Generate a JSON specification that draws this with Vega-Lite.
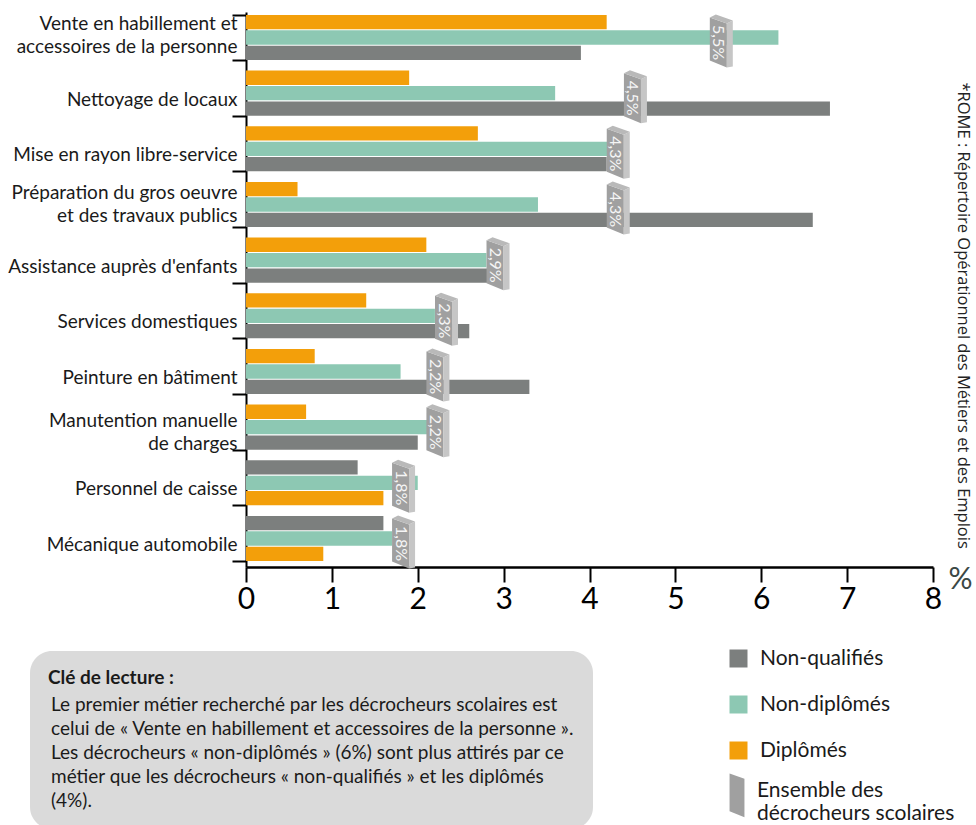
{
  "$schema": "https://vega.github.io/schema/vega-lite/v6.json",
  "width": 687,
  "height": 555,
  "autosize": {"type": "none"},
  "padding": {"left": 246, "top": 12, "right": 43, "bottom": 258},
  "background": "white",
  "config": {"font": "Lato", "view": {"stroke": null}, "axis": {"grid": false}},
  "datasets": {
    "barres": [
      {"metier": "Vente en habillement et accessoires de la personne", "groupe": "Diplômés", "valeur": 4.2},
      {"metier": "Vente en habillement et accessoires de la personne", "groupe": "Non-diplômés", "valeur": 6.2},
      {"metier": "Vente en habillement et accessoires de la personne", "groupe": "Non-qualifiés", "valeur": 3.9},
      {"metier": "Nettoyage de locaux", "groupe": "Diplômés", "valeur": 1.9},
      {"metier": "Nettoyage de locaux", "groupe": "Non-diplômés", "valeur": 3.6},
      {"metier": "Nettoyage de locaux", "groupe": "Non-qualifiés", "valeur": 6.8},
      {"metier": "Mise en rayon libre-service", "groupe": "Diplômés", "valeur": 2.7},
      {"metier": "Mise en rayon libre-service", "groupe": "Non-diplômés", "valeur": 4.3},
      {"metier": "Mise en rayon libre-service", "groupe": "Non-qualifiés", "valeur": 4.2},
      {"metier": "Préparation du gros oeuvre et des travaux publics", "groupe": "Diplômés", "valeur": 0.6},
      {"metier": "Préparation du gros oeuvre et des travaux publics", "groupe": "Non-diplômés", "valeur": 3.4},
      {"metier": "Préparation du gros oeuvre et des travaux publics", "groupe": "Non-qualifiés", "valeur": 6.6},
      {"metier": "Assistance auprès d'enfants", "groupe": "Diplômés", "valeur": 2.1},
      {"metier": "Assistance auprès d'enfants", "groupe": "Non-diplômés", "valeur": 2.8},
      {"metier": "Assistance auprès d'enfants", "groupe": "Non-qualifiés", "valeur": 2.9},
      {"metier": "Services domestiques", "groupe": "Diplômés", "valeur": 1.4},
      {"metier": "Services domestiques", "groupe": "Non-diplômés", "valeur": 2.2},
      {"metier": "Services domestiques", "groupe": "Non-qualifiés", "valeur": 2.6},
      {"metier": "Peinture en bâtiment", "groupe": "Diplômés", "valeur": 0.8},
      {"metier": "Peinture en bâtiment", "groupe": "Non-diplômés", "valeur": 1.8},
      {"metier": "Peinture en bâtiment", "groupe": "Non-qualifiés", "valeur": 3.3},
      {"metier": "Manutention manuelle de charges", "groupe": "Diplômés", "valeur": 0.7},
      {"metier": "Manutention manuelle de charges", "groupe": "Non-diplômés", "valeur": 2.2},
      {"metier": "Manutention manuelle de charges", "groupe": "Non-qualifiés", "valeur": 2.0},
      {"metier": "Personnel de caisse", "groupe": "Non-qualifiés", "valeur": 1.3},
      {"metier": "Personnel de caisse", "groupe": "Non-diplômés", "valeur": 2.0},
      {"metier": "Personnel de caisse", "groupe": "Diplômés", "valeur": 1.6},
      {"metier": "Mécanique automobile", "groupe": "Non-qualifiés", "valeur": 1.6},
      {"metier": "Mécanique automobile", "groupe": "Non-diplômés", "valeur": 1.7},
      {"metier": "Mécanique automobile", "groupe": "Diplômés", "valeur": 0.9}
    ],
    "ensemble": [
      {"metier": "Vente en habillement et accessoires de la personne", "valeur": 5.5, "etiquette": "5,5%"},
      {"metier": "Nettoyage de locaux", "valeur": 4.5, "etiquette": "4,5%"},
      {"metier": "Mise en rayon libre-service", "valeur": 4.3, "etiquette": "4,3%"},
      {"metier": "Préparation du gros oeuvre et des travaux publics", "valeur": 4.3, "etiquette": "4,3%"},
      {"metier": "Assistance auprès d'enfants", "valeur": 2.9, "etiquette": "2,9%"},
      {"metier": "Services domestiques", "valeur": 2.3, "etiquette": "2,3%"},
      {"metier": "Peinture en bâtiment", "valeur": 2.2, "etiquette": "2,2%"},
      {"metier": "Manutention manuelle de charges", "valeur": 2.2, "etiquette": "2,2%"},
      {"metier": "Personnel de caisse", "valeur": 1.8, "etiquette": "1,8%"},
      {"metier": "Mécanique automobile", "valeur": 1.8, "etiquette": "1,8%"}
    ],
    "cle": [
      {"ligne": "Le premier métier recherché par les décrocheurs scolaires est"},
      {"ligne": "celui de « Vente en habillement et accessoires de la personne »."},
      {"ligne": "Les décrocheurs « non-diplômés » (6%) sont plus attirés par ce"},
      {"ligne": "métier que les décrocheurs « non-qualifiés » et les diplômés"},
      {"ligne": "(4%)."}
    ]
  },
  "layer": [
    {
      "data": {"name": "barres"},
      "transform": [{"filter": "datum.metier != 'Personnel de caisse' && datum.metier != 'Mécanique automobile'"}],
      "mark": {"type": "bar"},
      "encoding": {
        "y": {
          "field": "metier", "type": "nominal",
          "scale": {
            "domain": ["Vente en habillement et accessoires de la personne", "Nettoyage de locaux", "Mise en rayon libre-service", "Préparation du gros oeuvre et des travaux publics", "Assistance auprès d'enfants", "Services domestiques", "Peinture en bâtiment", "Manutention manuelle de charges", "Personnel de caisse", "Mécanique automobile"],
            "paddingInner": 0.19, "paddingOuter": 0.08, "align": 0.33
          },
          "axis": {
            "title": null, "orient": "left",
            "labelFont": "Lato", "labelFontSize": 19, "labelColor": "#1a1a1a", "labelLimit": 0,
            "labelLineHeight": 23, "labelPadding": -5,
            "labelOffset": {"condition": [
              {"test": "datum.value == 'Vente en habillement et accessoires de la personne'", "value": -14},
              {"test": "datum.value == 'Préparation du gros oeuvre et des travaux publics'", "value": -12},
              {"test": "datum.value == 'Manutention manuelle de charges'", "value": -7}
            ], "value": 6},
            "labelExpr": "datum.label == 'Vente en habillement et accessoires de la personne' ? ['Vente en habillement et', 'accessoires de la personne'] : datum.label == 'Préparation du gros oeuvre et des travaux publics' ? ['Préparation du gros oeuvre', 'et des travaux publics'] : datum.label == 'Manutention manuelle de charges' ? ['Manutention manuelle', 'de charges'] : datum.label",
            "tickBand": "extent", "tickSize": 14, "tickWidth": 2, "tickColor": "black",
            "domainColor": "black", "domainWidth": 2
          }
        },
        "yOffset": {"field": "groupe", "type": "nominal", "sort": ["Diplômés", "Non-diplômés", "Non-qualifiés"], "scale": {"paddingInner": 0.07}},
        "x": {
          "field": "valeur", "type": "quantitative",
          "scale": {"domain": [0, 8], "nice": false},
          "axis": {
            "values": [0, 1, 2, 3, 4, 5, 6, 7, 8], "format": "d",
            "title": "%", "titleX": 702, "titleY": 12, "titleAlign": "left", "titleBaseline": "middle",
            "titleFont": "Lato", "titleFontSize": 30, "titleFontWeight": "normal", "titleColor": "#3b4845",
            "labelFont": "Lato", "labelFontSize": 30, "labelColor": "black", "labelPadding": 2, "labelFlush": false,
            "tickSize": 15, "tickWidth": 2, "tickColor": "black",
            "domainColor": "black", "domainWidth": 2.5
          }
        },
        "color": {
          "field": "groupe", "type": "nominal",
          "scale": {"domain": ["Non-qualifiés", "Non-diplômés", "Diplômés"], "range": ["#7c7f7e", "#8dc8b3", "#f39f0a"]},
          "legend": {
            "orient": "none", "legendX": 482, "legendY": 636, "title": null, "padding": 0,
            "symbolType": "square", "symbolSize": 324, "symbolStrokeWidth": 0,
            "labelFont": "Lato", "labelFontSize": 21, "labelColor": "#1a1a1a", "labelOffset": 11,
            "rowPadding": 24
          }
        }
      }
    },
    {
      "data": {"name": "barres"},
      "transform": [{"filter": "datum.metier == 'Personnel de caisse' || datum.metier == 'Mécanique automobile'"}],
      "mark": {"type": "bar"},
      "encoding": {
        "y": {"field": "metier", "type": "nominal", "axis": null},
        "yOffset": {"field": "groupe", "type": "nominal", "sort": ["Non-qualifiés", "Non-diplômés", "Diplômés"], "scale": {"paddingInner": 0.07}},
        "x": {"field": "valeur", "type": "quantitative"},
        "color": {"field": "groupe", "type": "nominal"}
      }
    },
    {
      "data": {"name": "ensemble"},
      "mark": {"type": "point", "filled": true, "size": 4096, "opacity": 1, "color": "#a0a0a0", "strokeWidth": 0},
      "encoding": {
        "y": {"field": "metier", "type": "nominal", "axis": null},
        "x": {"field": "valeur", "type": "quantitative"},
        "shape": {
          "datum": "Ensemble des décrocheurs scolaires",
          "scale": {"range": ["M-0.266,-0.625L0.266,-0.4375L0.266,0.9375L-0.266,0.719Z"]},
          "legend": {
            "orient": "none", "legendX": 463, "legendY": 751, "title": null, "padding": 0,
            "symbolSize": 3136, "symbolFillColor": "#a0a0a0", "symbolStrokeWidth": 0, "symbolOpacity": 1,
            "labelFont": "Lato", "labelFontSize": 21, "labelColor": "#1a1a1a", "labelOffset": -8, "labelLimit": 0,
            "labelExpr": "['Ensemble des', 'décrocheurs scolaires']"
          }
        }
      }
    },
    {
      "data": {"name": "ensemble"},
      "mark": {"type": "point", "filled": true, "size": 4096, "opacity": 1, "color": "#c6c6c6", "strokeWidth": 0, "shape": "M0.266,-0.4375L0.453,-0.531L0.453,0.906L0.266,0.9375Z"},
      "encoding": {
        "y": {"field": "metier", "type": "nominal", "axis": null},
        "x": {"field": "valeur", "type": "quantitative"}
      }
    },
    {
      "data": {"name": "ensemble"},
      "mark": {"type": "point", "filled": true, "size": 4096, "opacity": 1, "color": "#b9b9b9", "strokeWidth": 0, "shape": "M-0.266,-0.625L-0.078,-0.719L0.453,-0.531L0.266,-0.4375Z"},
      "encoding": {
        "y": {"field": "metier", "type": "nominal", "axis": null},
        "x": {"field": "valeur", "type": "quantitative"}
      }
    },
    {
      "data": {"name": "ensemble"},
      "mark": {"type": "text", "angle": 90, "align": "center", "baseline": "middle", "dx": 5, "font": "Lato", "fontSize": 16, "color": "#f5f5f5"},
      "encoding": {
        "y": {
          "field": "metier", "type": "nominal",
          "axis": {
            "orient": "right", "labels": false, "ticks": false, "domain": false,
            "title": "*ROME : Répertoire Opérationnel des Métiers et des Emplois",
            "titleAngle": 90, "titleAlign": "left", "titleBaseline": "middle",
            "titleX": 29, "titleY": 70,
            "titleFont": "Open Sans", "titleFontSize": 16.5, "titleFontWeight": "normal", "titleColor": "#222222"
          }
        },
        "x": {"field": "valeur", "type": "quantitative"},
        "text": {"field": "etiquette"}
      }
    },
    {
      "data": {"name": "cle"},
      "mark": {"type": "point", "opacity": 0},
      "encoding": {
        "strokeDash": {
          "field": "ligne", "type": "nominal",
          "scale": {"domain": ["Le premier métier recherché par les décrocheurs scolaires est", "celui de « Vente en habillement et accessoires de la personne ».", "Les décrocheurs « non-diplômés » (6%) sont plus attirés par ce", "métier que les décrocheurs « non-qualifiés » et les diplômés", "(4%)."]},
          "legend": {
            "orient": "none", "legendX": -216, "legendY": 639, "padding": 18,
            "fillColor": "#dadada", "cornerRadius": 22, "strokeColor": null,
            "title": "Clé de lecture :", "titleFont": "Lato", "titleFontSize": 19, "titleFontWeight": "bold", "titleColor": "#1a1a1a", "titlePadding": 7,
            "symbolSize": 0, "symbolStrokeWidth": 0, "symbolOpacity": 0, "labelOffset": -16,
            "labelFont": "Lato", "labelFontSize": 19, "labelColor": "#1a1a1a", "labelLimit": 0, "rowPadding": 4
          }
        }
      }
    }
  ],
  "resolve": {"scale": {"yOffset": "independent"}, "axis": {"y": "independent"}}
}
